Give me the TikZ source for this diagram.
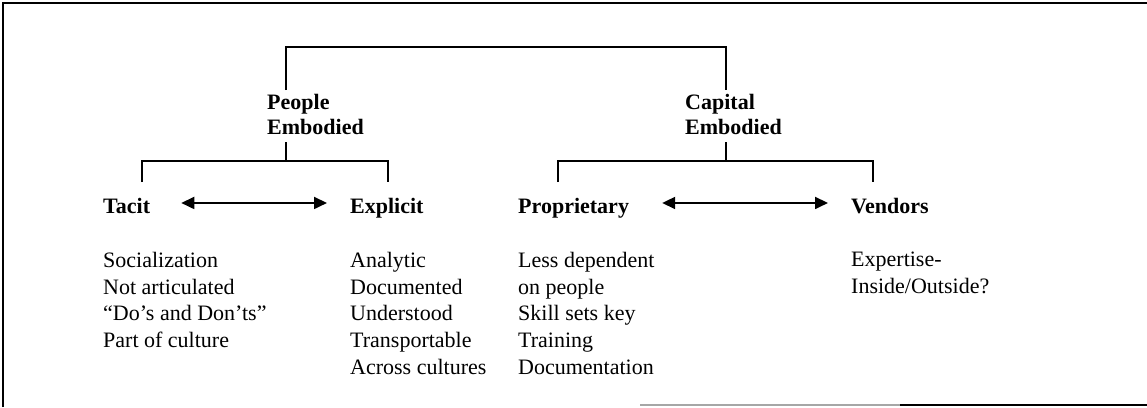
\documentclass[tikz,border=0pt]{standalone}
\usepackage{fontspec}
\setmainfont{Liberation Serif}
\usetikzlibrary{arrows.meta}
\begin{document}
\begin{tikzpicture}[x=1pt,y=-1pt,
  hd/.style={font=\fontsize{22}{25}\selectfont\bfseries, inner sep=0pt, anchor=base west},
  hd2/.style={font=\fontsize{22}{25}\selectfont\bfseries, inner sep=0pt, anchor=north west, align=left},
  lst/.style={font=\fontsize{22}{26.7}\selectfont, inner sep=0pt, anchor=north west, align=left},
  ln/.style={line width=1.6pt},
  dbl/.style={line width=1.8pt, {Triangle[length=13pt,width=12pt]}-{Triangle[length=13pt,width=12pt]}}]
\useasboundingbox (0,0) rectangle (1147,407);
% frame
\draw[line width=2pt] (3,407) -- (3,3) -- (1147,3);
\draw[line width=1.5pt, gray!70] (640,405) -- (900,405);
\draw[line width=2pt] (900,405) -- (1147,405);
% group headings
\node[hd2] (pe) at (267,94) {People\\Embodied};
\node[hd2] (ce) at (685,94) {Capital\\Embodied};
% category headings
\node[hd] (tacit) at (103,213) {Tacit};
\node[hd] (explicit) at (350,213) {Explicit};
\node[hd] (prop) at (518,213) {Proprietary};
\node[hd] (vend) at (851,213) {Vendors};
% lists
\node[lst] (ltac) at (103,252) {Socialization\\Not articulated\\“Do’s and Don’ts”\\Part of culture};
\node[lst] (lexp) at (350,252) {Analytic\\Documented\\Understood\\Transportable\\Across cultures};
\node[lst] (lprop) at (518,252) {Less dependent\\on people\\Skill sets key\\Training\\Documentation};
\node[lst] (lvend) at (851,252) {Expertise-\\Inside/Outside?};
% top bracket
\coordinate (tl) at (286,47);
\coordinate (tr) at (726,47);
\coordinate (pel) at (286,90);
\coordinate (cer) at (726,90);
\draw[ln] (pel) -- (tl) -- (tr) -- (cer);
% left bracket
\coordinate (peb) at (286,142);
\coordinate (pej) at (286,161);
\coordinate (lbl) at (142,182);
\coordinate (lbr) at (388,182);
\draw[ln] (peb) -- (pej);
\draw[ln] (lbl) |- (pej) -| (lbr);
% right bracket
\coordinate (ceb) at (726,142);
\coordinate (cej) at (726,161);
\coordinate (rbl) at (558,182);
\coordinate (rbr) at (873,182);
\draw[ln] (ceb) -- (cej);
\draw[ln] (rbl) |- (cej) -| (rbr);
% double arrows
\coordinate (a1) at ([xshift=31pt,yshift=2.5pt]tacit.east);
\draw[dbl, shorten >=23pt] (a1) -- (a1 -| explicit.west);
\coordinate (a2) at ([xshift=33pt]prop.east |- a1);
\draw[dbl, shorten >=23pt] (a2) -- (a2 -| vend.west);
\end{tikzpicture}
\end{document}
